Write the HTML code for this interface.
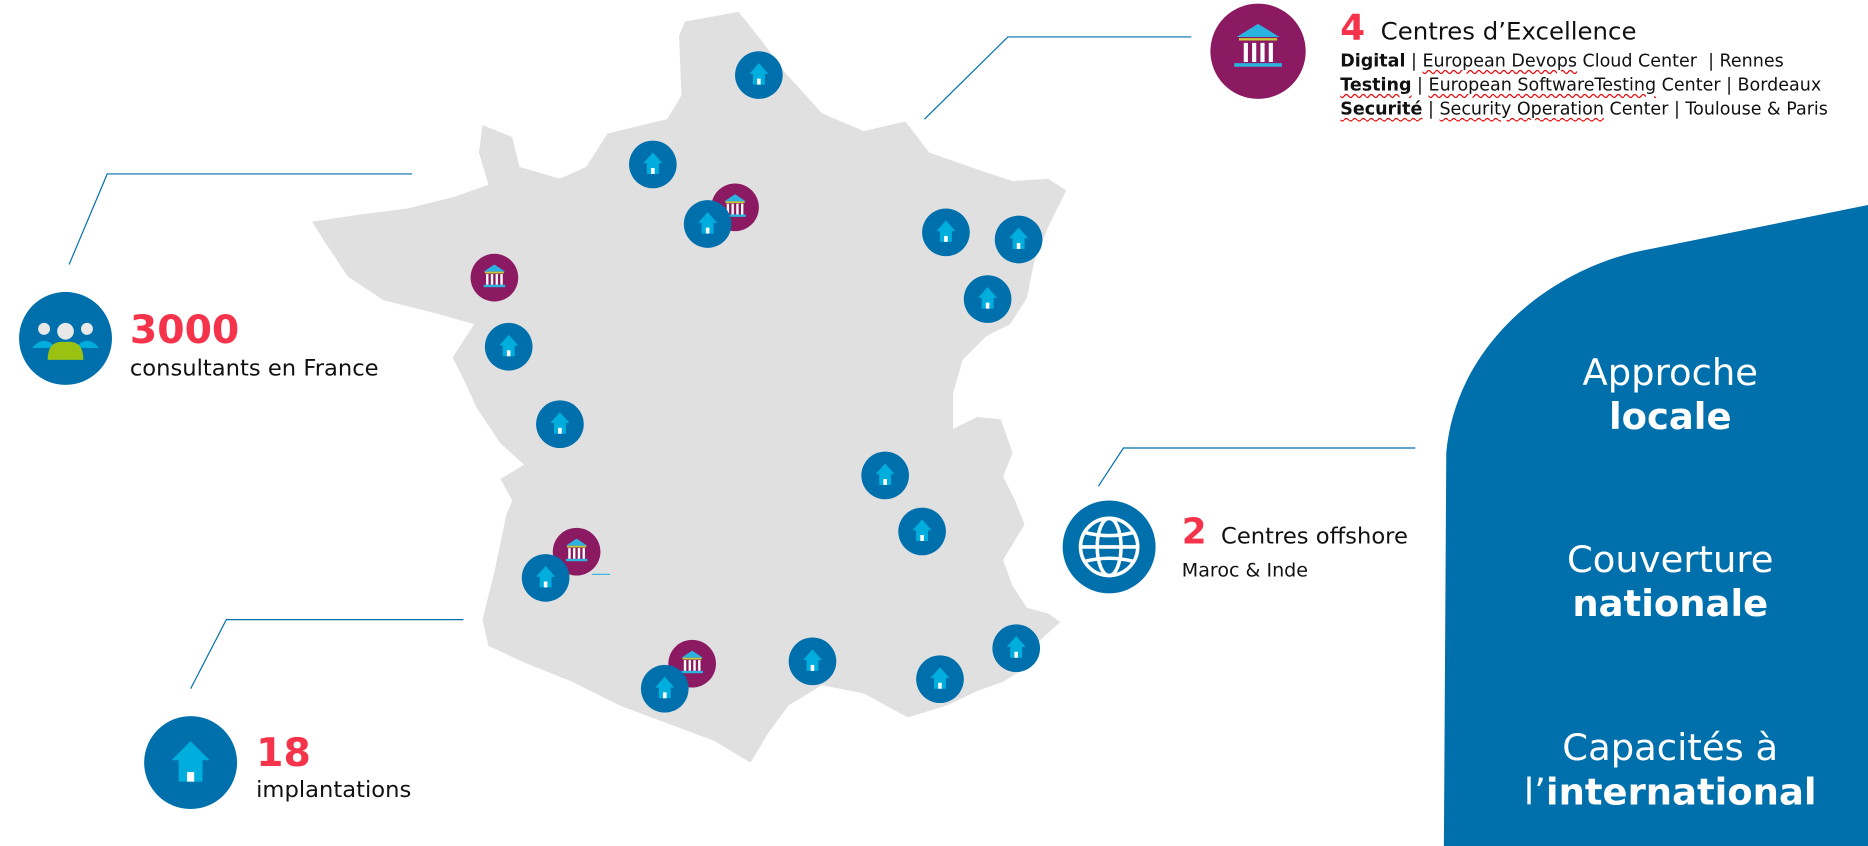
<!DOCTYPE html>
<html><head><meta charset="utf-8">
<style>
html,body{margin:0;padding:0;background:#fff;overflow:hidden;width:1868px;height:846px}
#stage{position:absolute;left:0;top:0;width:1568px;height:710px;transform-origin:0 0;transform:scale(1.19133,1.19155);font-family:"DejaVu Sans","Liberation Sans",sans-serif}
svg{position:absolute;left:0;top:0}
.t{position:absolute;white-space:nowrap;color:#111}
.red{color:#f5334b;font-weight:bold}
.w{position:absolute;color:#fff;text-align:center;width:360px;left:1222px;font-size:31px;line-height:37px}
.u{text-decoration:underline wavy #e00;text-decoration-thickness:1px;text-underline-offset:2px}
</style></head><body>
<div id="stage">
<svg width="1568" height="710" viewBox="0 0 1568 710">
<defs>
<g id="house"><circle r="20" fill="#0070ad"/><path d="M-8,-1 L0,-10 L8,-1 L5,-1 L5,8 L-5,8 L-5,-1Z" fill="#00aede"/><rect x="-1.5" y="3" width="3" height="5" fill="#fff"/></g>
<g id="bank"><circle r="20" fill="#8b1a62"/><path d="M-9,-5 L0,-11 L9,-5Z" fill="#2bb3e0"/><rect x="-8" y="-5" width="16" height="1.5" fill="#c8c93a"/><g fill="#fff"><rect x="-7" y="-3" width="2" height="9"/><rect x="-3" y="-3" width="2" height="9"/><rect x="1" y="-3" width="2" height="9"/><rect x="5" y="-3" width="2" height="9"/></g><rect x="-9" y="6" width="18" height="2" fill="#2bb3e0"/></g>
</defs>
<path d="M1568,172 L1380,210 C1300,226 1222,290 1214,380 L1212,710 L1568,710Z" fill="#0070ad"/>
<path fill="#e0e0e0" d="M575,18 L620,10 L640,35 L660,62 L690,95 L725,110 L760,102 L780,128 L820,142 L850,152 L880,150 L895,160 L880,190 L868,220 L862,250 L848,272 L828,282 L808,302 L800,330 L800,360 L820,350 L840,352 L850,380 L842,400 L852,420 L860,440 L842,470 L850,492 L862,510 L880,515 L890,522 L870,540 L862,560 L842,572 L820,580 L795,592 L762,602 L725,582 L690,575 L662,592 L645,615 L630,640 L600,622 L560,607 L520,592 L480,572 L440,556 L410,542 L405,520 L415,480 L425,432 L430,420 L420,402 L440,390 L420,372 L400,342 L390,320 L380,300 L398,272 L362,262 L322,252 L292,232 L272,202 L262,186 L302,180 L342,175 L382,165 L410,155 L402,128 L405,105 L430,115 L436,140 L470,150 L492,140 L510,112 L560,100 L572,80 L570,30Z"/>
<g stroke="#0070ad" stroke-width="1" fill="none">
<polyline points="58,222 90,146 346,146"/>
<polyline points="160,578 190,520 389,520"/>
<polyline points="776,100 846,31 1000,31"/>
<polyline points="922,408 943,376 1188,376"/>
<line x1="497" y1="482" x2="512" y2="482" stroke="#2bb3e0"/>
</g>
<g>
<use href="#bank" x="617" y="174"/><use href="#bank" x="415" y="233"/><use href="#bank" x="484" y="463"/><use href="#bank" x="581" y="557"/>
</g>
<g>
<use href="#house" x="637" y="63"/><use href="#house" x="548" y="138"/><use href="#house" x="594" y="188"/><use href="#house" x="794" y="195"/><use href="#house" x="855" y="201"/><use href="#house" x="829" y="251"/><use href="#house" x="427" y="291"/><use href="#house" x="470" y="356"/><use href="#house" x="743" y="399"/><use href="#house" x="774" y="446"/><use href="#house" x="458" y="485"/><use href="#house" x="682" y="555"/><use href="#house" x="558" y="578"/><use href="#house" x="789" y="570"/><use href="#house" x="853" y="544"/>
</g>
<g><circle cx="55" cy="284" r="39" fill="#0070ad"/>
<circle cx="37" cy="276" r="5" fill="#e8e8e8"/><circle cx="73" cy="276" r="5" fill="#e8e8e8"/>
<path d="M27,292 Q37,280 47,292Z" fill="#00aede"/><path d="M63,292 Q73,280 83,292Z" fill="#00aede"/>
<circle cx="55" cy="278" r="7" fill="#e8e8e8"/><path d="M40,302 Q40,285 55,287 Q70,285 70,302Z" fill="#9bc112"/></g>
<g><circle cx="160" cy="640" r="39" fill="#0070ad"/>
<path d="M-16,-2 L0,-18 L16,-2 L10,-2 L10,16 L-10,16 L-10,-2Z" transform="translate(160,640)" fill="#00aede"/><rect x="157" y="648" width="6" height="8" fill="#fff"/></g>
<g><circle cx="931" cy="459" r="39" fill="#0070ad"/>
<g stroke="#fff" stroke-width="3" fill="none"><circle cx="931" cy="459" r="24"/><ellipse cx="931" cy="459" rx="10" ry="24"/><line x1="907" y1="459" x2="955" y2="459"/><path d="M911,447 Q931,452 951,447"/><path d="M911,471 Q931,466 951,471"/></g></g>
<g><ellipse cx="1056" cy="43" rx="40" ry="40" fill="#8b1a62"/>
<path d="M1038,31 L1056,20 L1074,31Z" fill="#2bb3e0"/><rect x="1040" y="32" width="32" height="2" fill="#c8c93a"/>
<g fill="#fff"><rect x="1044" y="36" width="3.5" height="16"/><rect x="1051" y="36" width="3.5" height="16"/><rect x="1058" y="36" width="3.5" height="16"/><rect x="1065" y="36" width="3.5" height="16"/></g>
<rect x="1036" y="53" width="40" height="3" fill="#2bb3e0"/></g>
</svg>

<div class="t red" style="left:109px;top:257px;font-size:33px">3000</div>
<div class="t" style="left:109px;top:298px;font-size:19px">consultants en France</div>
<div class="t red" style="left:215px;top:612px;font-size:33px">18</div>
<div class="t" style="left:215px;top:652px;font-size:19px">implantations</div>

<div class="t" style="left:1125px;top:6px;font-size:20.5px"><span class="red" style="font-size:30px">4</span>&nbsp; Centres d’Excellence</div>
<div class="t" style="left:1125px;top:42px;font-size:14.7px;line-height:20px">
<b>Digital</b> | <span class="u">European Devops</span> Cloud Center&nbsp; | Rennes<br>
<b class="u">Testing</b> | <span class="u">European SoftwareTesting</span> Center | Bordeaux<br>
<b class="u">Securité</b> | <span class="u">Security Operation</span> Center | Toulouse &amp; Paris</div>

<div class="t" style="left:992px;top:429px;font-size:19px"><span class="red" style="font-size:30px">2</span>&nbsp; Centres offshore</div>
<div class="t" style="left:992px;top:469px;font-size:16px">Maroc &amp; Inde</div>

<div class="w" style="top:295px">Approche<br><b>locale</b></div>
<div class="w" style="top:452px">Couverture<br><b>nationale</b></div>
<div class="w" style="top:610px">Capacités à<br>l’<b>international</b></div>
</div>
</body></html>
